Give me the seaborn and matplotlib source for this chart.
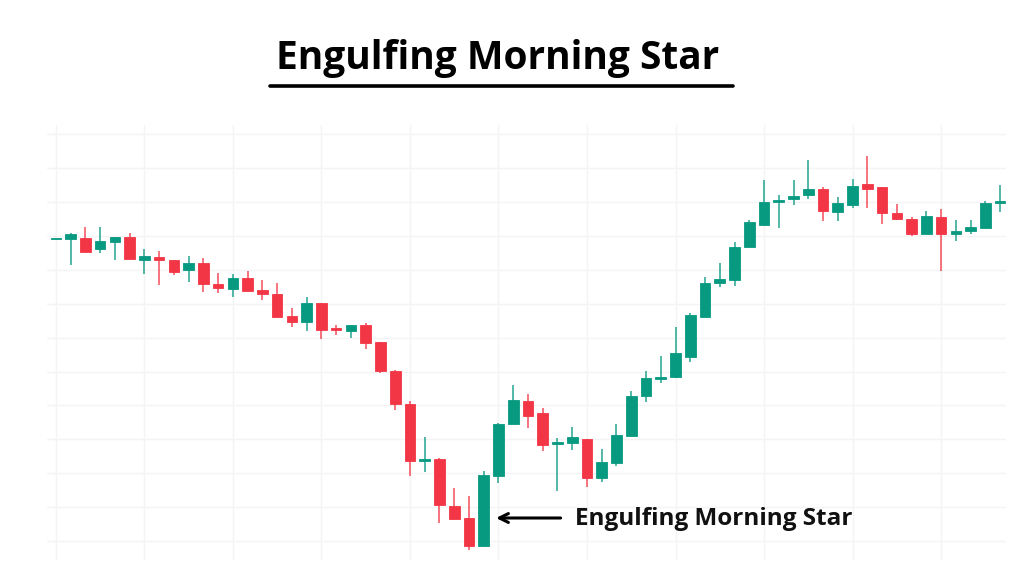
import numpy as np
import pandas as pd
import seaborn as sns
import matplotlib.pyplot as plt
from matplotlib.lines import Line2D

# candle values (price units are arbitrary)
opens = [337, 337, 338, 327, 334, 339, 316, 319, 316, 306, 313, 292, 287, 298, 286, 282,
         260, 254, 273, 247, 245, 251, 234, 205, 172, 115, 117, 70, 58, 30, 100, 152,
         175, 163, 132, 133, 137, 98, 113, 140, 180, 197, 199, 219, 259, 293, 296, 329,
         351, 374, 377, 381, 387, 364, 371, 392, 389, 363, 357, 342, 359, 342, 345, 348, 373.5]
closes = [337, 342, 324, 335, 339, 317, 320, 316, 304, 313, 292, 288, 298, 285, 282, 259,
          254, 273, 246, 246.5, 251, 233, 205, 172, 115, 117, 71, 57, 30, 101, 152, 176,
          160, 131, 134, 139, 98, 114, 141, 180, 198, 199, 223, 261, 293, 297, 329, 354,
          374, 376, 380, 387, 365, 373, 390, 387, 363, 357, 342, 360, 342, 345, 349, 373, 374]
highs = [337, 343, 349, 349, 339, 343, 327, 325, 316, 320, 318, 303, 302, 305, 296, 293,
         268, 279, 273, 251, 251, 253, 234, 206, 175, 139, 118, 88, 80, 105, 153, 191,
         182, 168, 138, 149, 137, 127, 152, 185, 205, 220, 249, 263, 299, 313, 334, 356,
         396, 381, 396, 416, 389, 379, 397, 420, 389, 372, 359, 365, 367, 356, 356, 375, 391]
lows = [337, 311, 324, 323, 316, 317, 302, 291, 301, 294, 284, 283, 279, 285, 276, 259,
        249, 245, 237, 241, 238, 227, 203, 166, 100, 104, 53, 57, 26, 30, 93, 152,
        148, 125, 85, 126, 89, 94, 110, 140, 174, 193, 198, 214, 259, 289, 290, 329,
        351, 348, 371, 377, 355, 355, 368, 368, 352, 356, 340, 342, 305, 335, 342, 348, 364]

title = "Engulfing Morning Star"
label = "Engulfing Morning Star"
pattern_idx = 29  # the engulfing candle

df = pd.DataFrame({"open": opens, "close": closes, "high": highs, "low": lows})
df["bar"] = np.arange(len(df))
df["up"] = df["close"] >= df["open"]

sns.set_theme(style="white")
plt.rcParams["font.family"] = ["Open Sans", "DejaVu Sans"]

green, red = "#089981", "#f23645"
colors = np.where(df["up"], green, red)

fig = plt.figure(figsize=(10.24, 5.76), dpi=100)
ax = fig.add_axes([47 / 1024, 16 / 576, 959 / 1024, 435 / 576])

# wicks
ax.vlines(df["bar"], df["low"], df["high"], colors=colors, linewidth=1.3, alpha=0.75, zorder=2)
# bodies
body_lo = df[["open", "close"]].min(axis=1)
body_h = (df["close"] - df["open"]).abs().clip(lower=1.2)
ax.bar(df["bar"], body_h, bottom=body_lo, width=0.72, color=colors,
       edgecolor=colors, linewidth=0.6, zorder=3)

ax.set_xlim(-0.6, 64.4)
ax.set_ylim(16, 451)
ax.set_xticks(np.arange(0, 65, 6))
ax.set_yticks(35 + 33.9 * np.arange(13))
ax.grid(True, color="#f4f4f4", linewidth=1.0, zorder=0)
ax.tick_params(length=0, labelbottom=False, labelleft=False)
for s in ax.spines.values():
    s.set_visible(False)

# arrow + label pointing at the engulfing candle
ax.annotate("", xy=(pattern_idx + 0.65, 58), xytext=(34.4, 58),
            arrowprops=dict(arrowstyle="->", color="black", lw=2.2, mutation_scale=16))
ax.text(35.2, 57, label, fontsize=17.5, fontweight="bold", color="#111111", va="center", ha="left")

# title with underline
fig.text(498 / 1024, 1 - 59 / 576, title, fontsize=28, fontweight="bold",
         color="black", ha="center", va="center")
fig.add_artist(Line2D([270 / 1024, 733 / 1024], [1 - 86 / 576, 1 - 86 / 576],
                      color="black", linewidth=2.6))

fig.savefig("out.png", dpi=100, facecolor="white")
